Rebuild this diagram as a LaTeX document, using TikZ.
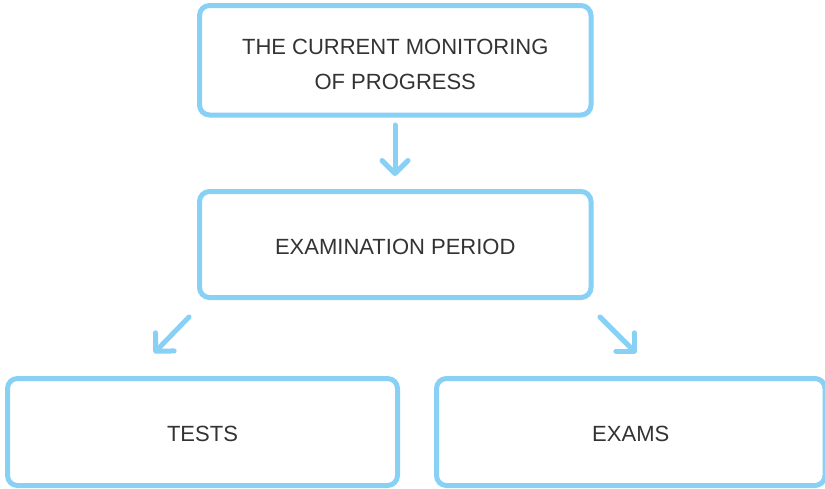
\documentclass[tikz,border=0pt]{standalone}
\usepackage{fontspec}
\setmainfont{Liberation Sans}
\usetikzlibrary{arrows.meta}
\definecolor{boxblue}{RGB}{137,208,245}
\definecolor{txtgray}{RGB}{51,51,51}
\newcommand{\lowstrut}{\rule{0pt}{20pt}}
\tikzset{
  flowbox/.style={draw=boxblue, line width=5pt, rounded corners=10pt, fill=white,
    inner sep=0pt, align=center, text=txtgray,
    font=\fontsize{22}{35}\selectfont},
  flowarrow/.style={draw=boxblue, line width=5pt, line cap=round, line join=round,
    -{Straight Barb[length=13pt,width=26pt,round]}}
}
\begin{document}
\begin{tikzpicture}[x=1pt,y=-1pt]
\useasboundingbox (0,0) rectangle (825,488);
\node[flowbox, minimum width=391.5pt, minimum height=109.5pt] (monitor) at (395.25,60.25)
  {\rule{0pt}{24pt}THE CURRENT MONITORING\\OF PROGRESS};
\node[flowbox, minimum width=391.5pt, minimum height=106pt] (period) at (395.25,244.5)
  {\lowstrut EXAMINATION PERIOD};
\node[flowbox, minimum width=390pt, minimum height=107pt] (tests) at (202.5,432)
  {\lowstrut TESTS};
\node[flowbox, minimum width=388.5pt, minimum height=107pt] (exams) at (630.75,432)
  {\lowstrut EXAMS};
\coordinate (d1) at (395,125);
\coordinate (d2) at (395,176);
\coordinate (l1) at (189,317);
\coordinate (l2) at (154,353);
\coordinate (r1) at (600,317);
\coordinate (r2) at (636,353);
\draw[flowarrow] (d1) -- (d2);
\draw[flowarrow] (l1) -- (l2);
\draw[flowarrow] (r1) -- (r2);
\end{tikzpicture}
\end{document}
